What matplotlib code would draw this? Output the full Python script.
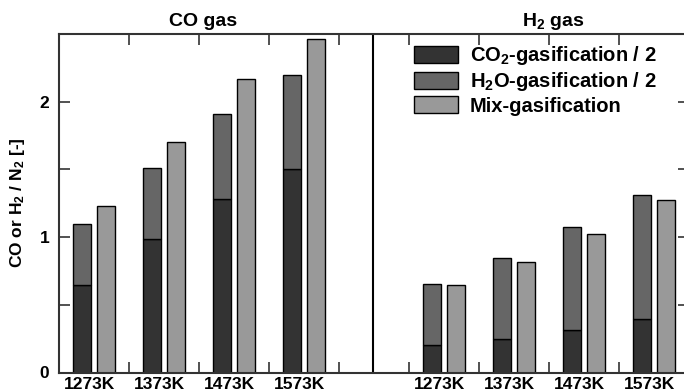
import numpy as np
import matplotlib
matplotlib.use("Agg")
import matplotlib.pyplot as plt
from matplotlib.patches import Patch

plt.rcParams['font.family'] = ['Liberation Sans', 'DejaVu Sans']
plt.rcParams['font.weight'] = 'bold'
plt.rcParams['mathtext.fontset'] = 'custom'
plt.rcParams['mathtext.rm'] = 'Liberation Sans:bold'
plt.rcParams['mathtext.bf'] = 'Liberation Sans:bold'
plt.rcParams['mathtext.default'] = 'bf'

# gas ratio to N2, per temperature
temps = ['1273K', '1373K', '1473K', '1573K']
co_co2 = [0.647, 0.987, 1.28, 1.50]
co_h2o = [0.453, 0.523, 0.627, 0.70]
co_mix = [1.228, 1.70, 2.165, 2.46]
h2_co2 = [0.20, 0.246, 0.315, 0.394]
h2_h2o = [0.457, 0.603, 0.758, 0.915]
h2_mix = [0.645, 0.817, 1.024, 1.275]

c_co2 = '#333333'
c_h2o = '#666666'
c_mix = '#999999'

fig = plt.figure(figsize=(6.84, 3.9), dpi=100)
ax = fig.add_axes([59/684, 17.5/390, 630/684, 338.5/390])

w = 0.26
off = 0.172
for start, co2, h2o, mix in [(0.5, co_co2, co_h2o, co_mix), (5.5, h2_co2, h2_h2o, h2_mix)]:
    x = start + np.arange(len(temps))
    ax.bar(x - off, co2, w, color=c_co2, edgecolor='black', linewidth=1)
    ax.bar(x - off, h2o, w, bottom=co2, color=c_h2o, edgecolor='black', linewidth=1)
    ax.bar(x + off, mix, w, color=c_mix, edgecolor='black', linewidth=1)
    for xi, t in zip(x, temps):
        ax.text(xi - 0.07, -0.012, t, transform=ax.get_xaxis_transform(),
                ha='center', va='top', fontsize=12.5, fontweight='bold')

# divider between the two panels
ax.axvline(4.49, color='black', linewidth=1.5)

ax.set_xlim(0, 9)
ax.set_ylim(0, 2.5)
ax.set_xticks(np.arange(1, 9))
ax.set_xticklabels([])
ax.set_yticks(np.arange(0, 2.51, 0.5))
ax.set_yticklabels(['0', '', '1', '', '2', ''])
ax.tick_params(axis='both', direction='in', length=8, width=1.2, color='#333333',
               labelsize=12.5, pad=7)
ax.tick_params(axis='x', top=True, bottom=True)
ax.tick_params(axis='y', left=True, right=True)
for s in ax.spines.values():
    s.set_linewidth(1.5)
    s.set_color('#333333')

ax.text(2.06, 1.038, 'CO gas', transform=ax.get_xaxis_transform(),
        ha='center', va='center', fontsize=14, fontweight='bold')
ax.text(7.06, 1.038, r'H$_2$ gas', transform=ax.get_xaxis_transform(),
        ha='center', va='center', fontsize=14, fontweight='bold')

fig.text(18/684, 1 - 203/390, r'CO or H$_2$ / N$_2$ [-]', rotation=90,
         ha='center', va='center', fontsize=12.5, fontweight='bold')

handles = [Patch(facecolor=c_co2, edgecolor='black'),
           Patch(facecolor=c_h2o, edgecolor='black'),
           Patch(facecolor=c_mix, edgecolor='black')]
labels = [r'CO$_2$-gasification / 2', r'H$_2$O-gasification / 2', 'Mix-gasification']
ax.legend(handles, labels, loc='upper left', bbox_to_anchor=(414/684, 1 - 44/390),
          bbox_transform=fig.transFigure, frameon=False, borderpad=0,
          borderaxespad=0, handlelength=2.2, handleheight=0.93,
          handletextpad=0.57, labelspacing=0.15, prop={'size': 14.5, 'weight': 'bold'})

fig.savefig('out.png', dpi=100)
